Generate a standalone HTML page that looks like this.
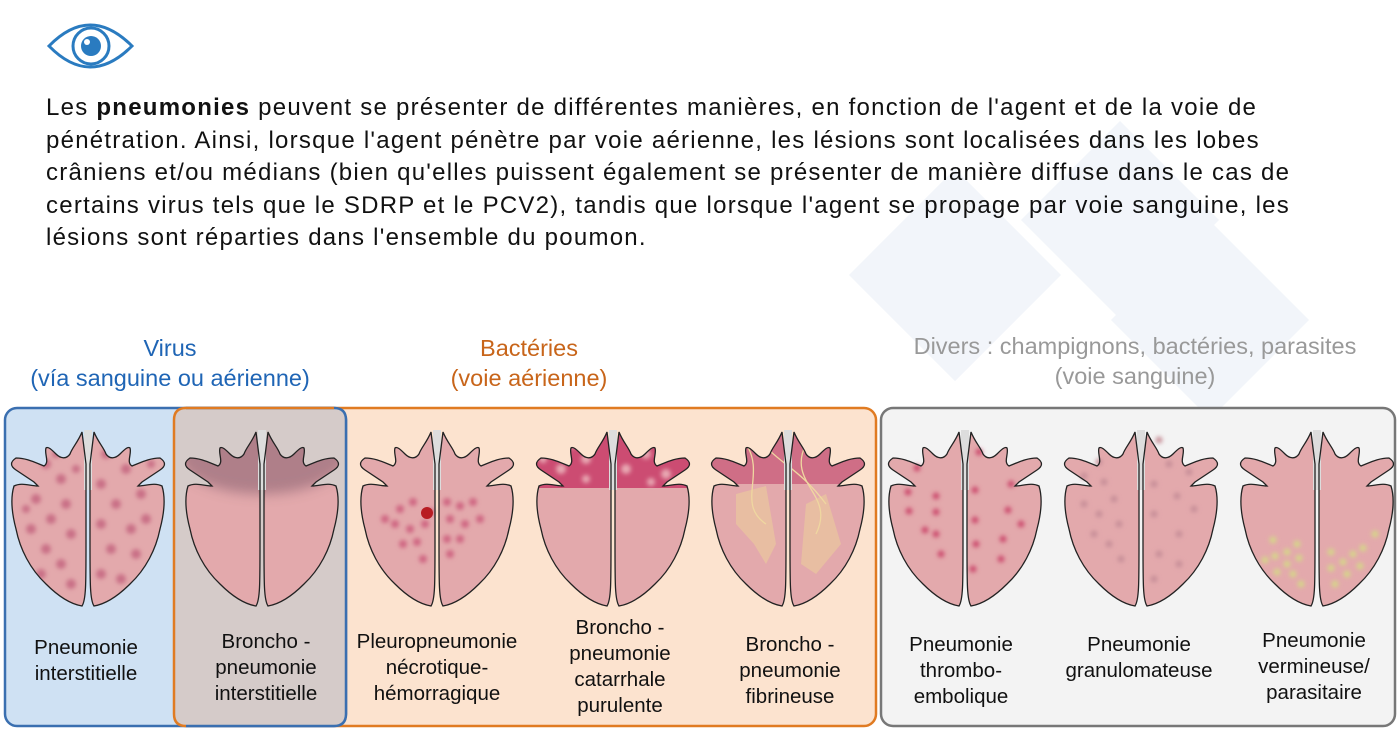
<!DOCTYPE html>
<html><head><meta charset="utf-8">
<style>
html,body{margin:0;padding:0;background:#fff;}
body{width:1400px;height:744px;position:relative;overflow:hidden;font-family:"Liberation Sans",Arial,sans-serif;}
.p{position:absolute;left:46px;top:92px;font-size:24px;letter-spacing:1.25px;line-height:32.5px;color:#111;white-space:nowrap;}
.h{position:absolute;text-align:center;font-size:23.5px;line-height:30px;white-space:nowrap;}
.l{position:absolute;text-align:center;font-size:20.5px;line-height:26px;color:#111;white-space:nowrap;width:170px;}
</style></head><body>
<svg width="1400" height="744" style="position:absolute;left:0;top:0">
<defs>
<filter id="b" x="-50%" y="-50%" width="200%" height="200%"><feGaussianBlur stdDeviation="2"/></filter>
<filter id="b2" x="-50%" y="-50%" width="200%" height="200%"><feGaussianBlur stdDeviation="6"/></filter>
<path id="L" d="M74,8 C70,18 64,24 62,30 C58,36 52,34 48,30 C44,26 40,22 38,24 C36,30 42,38 36,42 C26,38 18,34 8,34 C2,38 2,42 8,46 C14,50 20,54 26,58 L30,62 C22,62 14,58 6,62 C2,75 4,90 8,105 C12,125 22,145 38,160 C50,172 62,180 74,182 C78,176 78,160 78,120 L78,40 Z"/>
<g id="lung">
<use href="#L" transform="translate(2,0)"/>
<use href="#L" transform="translate(162,0) scale(-1,1)"/>
</g>
<g id="lungo" fill="none" stroke="#222" stroke-width="1.3">
<use href="#L" transform="translate(2,0)"/>
<use href="#L" transform="translate(162,0) scale(-1,1)"/>
</g>
<clipPath id="lc"><use href="#L" transform="translate(2,0)"/><use href="#L" transform="translate(162,0) scale(-1,1)"/></clipPath>
</defs>
<!-- watermark -->
<g fill="#f2f5fa">
<rect x="880" y="200" width="150" height="150" transform="rotate(45 955 275)"/>
<rect x="1050" y="150" width="140" height="140" transform="rotate(45 1120 220)"/>
<rect x="1140" y="250" width="140" height="140" transform="rotate(45 1210 320)"/>
</g>
<!-- eye -->
<g stroke="#2a7bc0" stroke-width="3" fill="none">
<path d="M49,46 Q90,4 132,46 Q90,88 49,46 Z"/>
<circle cx="91" cy="46" r="18"/>
</g>
<circle cx="91" cy="46" r="10" fill="#2a7bc0"/>
<circle cx="87" cy="42" r="3" fill="#fff"/>
<!-- boxes -->
<rect x="174" y="408" width="702" height="318" rx="12" fill="#fce3cf" stroke="#e07b22" stroke-width="2.5"/>
<rect x="5" y="408" width="341" height="318" rx="12" fill="#cfe1f3" stroke="#3a6fb0" stroke-width="2.5"/>
<rect x="174" y="408" width="172" height="318" rx="12" fill="#d5cbc9" stroke="none"/>
<path d="M186,408 H334 Q346,408 346,420 V714 Q346,726 334,726 H186" fill="none" stroke="#3a6fb0" stroke-width="2.5"/>
<path d="M186,726 Q174,726 174,714 V420 Q174,408 186,408 H334" fill="none" stroke="#e07b22" stroke-width="2.5"/>
<rect x="881" y="408" width="514" height="318" rx="12" fill="#f3f3f3" stroke="#777" stroke-width="2.5"/>

<!-- lungs -->
<g transform="translate(6,424)">
 <use href="#lung" fill="#e3a9ac"/>
 <g clip-path="url(#lc)" fill="#c96f86" filter="url(#b)">
  <circle cx="40" cy="40" r="5"/><circle cx="55" cy="55" r="5"/><circle cx="30" cy="75" r="5"/><circle cx="60" cy="80" r="5"/><circle cx="45" cy="95" r="5"/><circle cx="25" cy="105" r="5"/><circle cx="65" cy="110" r="5"/><circle cx="40" cy="125" r="5"/><circle cx="55" cy="140" r="5"/><circle cx="35" cy="150" r="5"/><circle cx="65" cy="160" r="5"/><circle cx="20" cy="85" r="4"/><circle cx="50" cy="30" r="4"/><circle cx="70" cy="45" r="4"/>
  <circle cx="100" cy="30" r="5"/><circle cx="120" cy="45" r="5"/><circle cx="95" cy="60" r="5"/><circle cx="135" cy="70" r="5"/><circle cx="110" cy="80" r="5"/><circle cx="95" cy="100" r="5"/><circle cx="125" cy="105" r="5"/><circle cx="140" cy="95" r="5"/><circle cx="105" cy="125" r="5"/><circle cx="130" cy="130" r="5"/><circle cx="95" cy="150" r="5"/><circle cx="115" cy="155" r="5"/><circle cx="145" cy="40" r="4"/>
 </g>
 <rect x="78" y="6" width="8" height="60" fill="#ddd"/>
 <use href="#lungo"/>
</g>
<g transform="translate(180,424)">
 <use href="#lung" fill="#e3a9ac"/>
 <g clip-path="url(#lc)"><ellipse cx="82" cy="30" rx="85" ry="40" fill="#a97a85" filter="url(#b2)" opacity="0.9"/></g>
 <rect x="78" y="6" width="8" height="60" fill="#ddd"/>
 <use href="#lungo"/>
</g>
<g transform="translate(355,424)">
 <use href="#lung" fill="#e3a9ac"/>
 <g fill="#cf6581" filter="url(#b)">
  <circle cx="45" cy="85" r="4"/><circle cx="58" cy="78" r="4"/><circle cx="40" cy="100" r="4"/><circle cx="55" cy="105" r="4"/><circle cx="70" cy="100" r="4"/><circle cx="48" cy="120" r="4"/><circle cx="62" cy="118" r="4"/><circle cx="75" cy="88" r="4"/><circle cx="30" cy="95" r="4"/><circle cx="68" cy="135" r="4"/>
  <circle cx="92" cy="78" r="4"/><circle cx="105" cy="82" r="4"/><circle cx="118" cy="78" r="4"/><circle cx="95" cy="95" r="4"/><circle cx="110" cy="100" r="4"/><circle cx="92" cy="115" r="4"/><circle cx="105" cy="115" r="4"/><circle cx="95" cy="130" r="4"/><circle cx="125" cy="95" r="4"/>
 </g>
 <circle cx="72" cy="89" r="6" fill="#b81c22"/>
 <rect x="78" y="6" width="8" height="60" fill="#ddd"/>
 <use href="#lungo"/>
</g>
<g transform="translate(531,424)">
 <use href="#lung" fill="#e3a9ac"/>
 <g clip-path="url(#lc)"><rect x="0" y="0" width="170" height="64" fill="#cc4c72"/>
  <g fill="#e8a8b2" filter="url(#b)"><circle cx="40" cy="20" r="5"/><circle cx="55" cy="35" r="5"/><circle cx="30" cy="45" r="5"/><circle cx="12" cy="35" r="4"/><circle cx="55" cy="55" r="4"/><circle cx="100" cy="12" r="5"/><circle cx="115" cy="30" r="5"/><circle cx="95" cy="45" r="5"/><circle cx="135" cy="50" r="5"/><circle cx="120" cy="58" r="4"/></g></g>
 <rect x="78" y="6" width="8" height="60" fill="#ddd"/>
 <use href="#lungo"/>
</g>
<g transform="translate(706,424)">
 <use href="#lung" fill="#e3a9ac"/>
 <g clip-path="url(#lc)"><rect x="0" y="0" width="170" height="60" fill="#cf6e86"/>
  <path d="M30,70 L60,62 L70,120 L60,140 L48,120 L30,100 Z M100,80 L120,70 L135,120 L110,150 L95,140 Z" fill="#e8c3a0" opacity="0.8"/>
  <g fill="none" stroke="#efd7a0" stroke-width="1.3"><path d="M40,20 C60,50 30,80 60,100"/><path d="M100,20 C80,60 130,70 110,110"/><path d="M50,10 C70,40 90,40 120,80"/></g></g>
 <rect x="78" y="6" width="8" height="60" fill="#ddd"/>
 <use href="#lungo"/>
</g>
<g transform="translate(883,424)">
 <use href="#lung" fill="#e3a9ac"/>
 <g fill="#cc4c6e" filter="url(#b)"><circle cx="34" cy="44" r="3.5"/><circle cx="25" cy="68" r="3.5"/><circle cx="53" cy="72" r="3.5"/><circle cx="26" cy="87" r="3.5"/><circle cx="53" cy="88" r="3.5"/><circle cx="42" cy="106" r="3.5"/><circle cx="53" cy="110" r="3.5"/><circle cx="58" cy="130" r="3.5"/><circle cx="96" cy="28" r="3.5"/><circle cx="128" cy="60" r="3.5"/><circle cx="92" cy="66" r="3.5"/><circle cx="125" cy="86" r="3.5"/><circle cx="92" cy="96" r="3.5"/><circle cx="138" cy="100" r="3.5"/><circle cx="120" cy="115" r="3.5"/><circle cx="93" cy="120" r="3.5"/><circle cx="118" cy="135" r="3.5"/><circle cx="90" cy="145" r="3.5"/></g>
 <rect x="78" y="6" width="8" height="60" fill="#ddd"/>
 <use href="#lungo"/>
</g>
<g transform="translate(1059,424)">
 <use href="#lung" fill="#e3a9ac"/>
 <g fill="#c78f98" filter="url(#b)"><circle cx="40" cy="38" r="3.5"/><circle cx="25" cy="52" r="3.5"/><circle cx="45" cy="58" r="3.5"/><circle cx="25" cy="80" r="3.5"/><circle cx="55" cy="75" r="3.5"/><circle cx="40" cy="90" r="3.5"/><circle cx="60" cy="100" r="3.5"/><circle cx="35" cy="110" r="3.5"/><circle cx="50" cy="120" r="3.5"/><circle cx="62" cy="135" r="3.5"/><circle cx="100" cy="16" r="3.5"/><circle cx="110" cy="40" r="3.5"/><circle cx="130" cy="48" r="3.5"/><circle cx="95" cy="60" r="3.5"/><circle cx="118" cy="72" r="3.5"/><circle cx="135" cy="85" r="3.5"/><circle cx="95" cy="90" r="3.5"/><circle cx="120" cy="110" r="3.5"/><circle cx="100" cy="130" r="3.5"/><circle cx="120" cy="140" r="3.5"/><circle cx="95" cy="155" r="3.5"/></g>
 <rect x="78" y="6" width="8" height="60" fill="#ddd"/>
 <use href="#lungo"/>
</g>
<g transform="translate(1235,424)">
 <use href="#lung" fill="#e3a9ac"/>
 <g fill="#d6d58a" filter="url(#b)"><circle cx="38" cy="116" r="3.5"/><circle cx="40" cy="132" r="3.5"/><circle cx="52" cy="128" r="3.5"/><circle cx="52" cy="140" r="3.5"/><circle cx="62" cy="120" r="3.5"/><circle cx="64" cy="134" r="3.5"/><circle cx="30" cy="136" r="3.5"/><circle cx="42" cy="148" r="3.5"/><circle cx="58" cy="150" r="3.5"/><circle cx="66" cy="160" r="3.5"/><circle cx="96" cy="144" r="3.5"/><circle cx="108" cy="138" r="3.5"/><circle cx="118" cy="130" r="3.5"/><circle cx="128" cy="124" r="3.5"/><circle cx="140" cy="110" r="3.5"/><circle cx="100" cy="160" r="3.5"/><circle cx="112" cy="150" r="3.5"/><circle cx="125" cy="142" r="3.5"/><circle cx="96" cy="128" r="3.5"/></g>
 <rect x="78" y="6" width="8" height="60" fill="#ddd"/>
 <use href="#lungo"/>
</g>
</svg>

<div class="p">Les <b>pneumonies</b> peuvent se présenter de différentes manières, en fonction de l'agent et de la voie de<br>pénétration. Ainsi, lorsque l'agent pénètre par voie aérienne, les lésions sont localisées dans les lobes<br>crâniens et/ou médians (bien qu'elles puissent également se présenter de manière diffuse dans le cas de<br>certains virus tels que le SDRP et le PCV2), tandis que lorsque l'agent se propage par voie sanguine, les<br>lésions sont réparties dans l'ensemble du poumon.</div>

<div class="h" style="left:0;width:340px;top:333px;color:#1f65b5">Virus<br>(vía sanguine ou aérienne)</div>
<div class="h" style="left:379px;width:300px;top:333px;color:#c8651a">Bactéries<br>(voie aérienne)</div>
<div class="h" style="left:885px;width:500px;top:331px;color:#999">Divers : champignons, bactéries, parasites<br>(voie sanguine)</div>

<div class="l" style="left:1px;top:635px">Pneumonie<br>interstitielle</div>
<div class="l" style="left:181px;top:629px">Broncho -<br>pneumonie<br>interstitielle</div>
<div class="l" style="left:352px;top:629px">Pleuropneumonie<br>nécrotique-<br>hémorragique</div>
<div class="l" style="left:535px;top:615px">Broncho -<br>pneumonie<br>catarrhale<br>purulente</div>
<div class="l" style="left:705px;top:632px">Broncho -<br>pneumonie<br>fibrineuse</div>
<div class="l" style="left:876px;top:632px">Pneumonie<br>thrombo-<br>embolique</div>
<div class="l" style="left:1054px;top:632px">Pneumonie<br>granulomateuse</div>
<div class="l" style="left:1229px;top:628px">Pneumonie<br>vermineuse/<br>parasitaire</div>
</body></html>
